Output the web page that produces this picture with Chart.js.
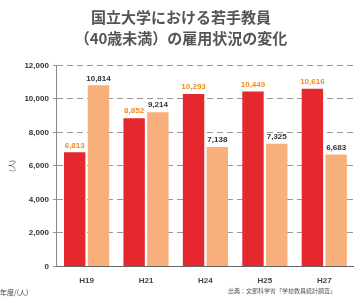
<!DOCTYPE html>
<html><head><meta charset="utf-8">
<script src="https://cdn.jsdelivr.net/npm/chart.js@4/dist/chart.umd.min.js"></script>
<style>
html,body{margin:0;padding:0;background:#fff;}
#wrap{position:relative;width:354px;height:298px;overflow:hidden;font-family:"Noto Sans CJK JP","Noto Sans",sans-serif;}
#src{position:absolute;left:228px;top:286px;font-size:6px;color:#555;white-space:nowrap;}
#unit{position:absolute;left:0px;top:287px;font-size:7px;color:#444;white-space:nowrap;}
</style></head>
<body><div id="wrap"><canvas id="c" width="354" height="298"></canvas>
<div id="src">出典：文部科学省「学校教員統計調査」</div>
<div id="unit">年度/(人)</div></div>
<script>
const categories = ["H19","H21","H24","H25","H27"];
const seriesA = [6813, 8852, 10293, 10449, 10616];
const seriesB = [10814, 9214, 7138, 7325, 6683];
const yTicks = [0, 2000, 4000, 6000, 8000, 10000, 12000];
const titleLines = ["国立大学における若手教員", "（40歳未満）の雇用状況の変化"];

const fmt = v => v.toLocaleString('en-US');
const labelPlugin = {
  id: 'vlabels',
  afterDatasetsDraw(chart) {
    const ctx = chart.ctx;
    ctx.save();
    ctx.textAlign = 'center';
    ctx.textBaseline = 'bottom';
    ctx.font = 'bold 8px "Liberation Sans", Arial, sans-serif';
    chart.data.datasets.forEach((ds, di) => {
      const meta = chart.getDatasetMeta(di);
      meta.data.forEach((el, i) => {
        ctx.fillStyle = di === 0 ? '#f08c1e' : '#333';
        ctx.fillText(fmt(ds.data[i]), el.x, el.y - 3);
      });
    });
    ctx.restore();
  }
};

new Chart(document.getElementById('c'), {
  type: 'bar',
  data: {
    labels: categories,
    datasets: [
      { data: seriesA, backgroundColor: '#e4282e', borderWidth: 0 },
      { data: seriesB, backgroundColor: '#f7b07c', borderWidth: 0 }
    ]
  },
  options: {
    responsive: false,
    animation: false,
    devicePixelRatio: 1,
    layout: { padding: { left: 8, right: 0, top: 0, bottom: 2 } },
    plugins: {
      legend: { display: false },
      tooltip: { enabled: false },
      title: {
        display: true,
        text: titleLines,
        color: '#555',
        font: { size: 15, weight: 'bold', family: '"Noto Sans CJK JP", sans-serif', lineHeight: 1.45 },
        padding: { top: 6, bottom: 16 }
      }
    },
    scales: {
      x: {
        grid: { display: false, drawTicks: false },
        border: { color: '#666', width: 1 },
        ticks: { color: '#444', font: { size: 8, weight: 'bold' }, padding: 10 },
        categoryPercentage: 0.6,
        barPercentage: 1.0
      },
      y: {
        min: 0, max: 12000,
        afterBuildTicks: axis => { axis.ticks = yTicks.map(v => ({ value: v })); },
        grid: { color: '#999', lineWidth: 1, tickLength: 4 },
        border: { color: '#888', dash: [6, 4], width: 1 },
        ticks: { color: '#333', font: { size: 8, weight: 'bold', family: '"Liberation Sans", Arial' }, padding: 4, callback: v => fmt(v) },
        title: { display: true, text: '(人)', color: '#444', font: { size: 7 }, padding: { top: 0, bottom: 4 } }
      }
    }
  },
  plugins: [labelPlugin]
});
</script></body></html>
